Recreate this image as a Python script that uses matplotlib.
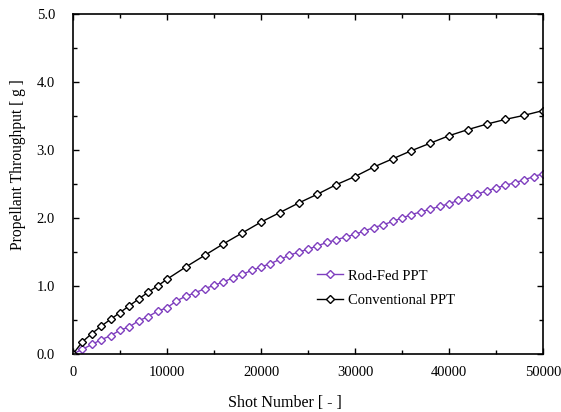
import matplotlib
matplotlib.use("Agg")
import matplotlib.pyplot as plt
from matplotlib.ticker import MultipleLocator, FormatStrFormatter

# Conventional PPT: every 1000 shots to 10000, then every 2000
shots_conv = [0, 1000, 2000, 3000, 4000, 5000, 6000, 7000, 8000, 9000, 10000,
              12000, 14000, 16000, 18000, 20000, 22000, 24000, 26000, 28000,
              30000, 32000, 34000, 36000, 38000, 40000, 42000, 44000, 46000,
              48000, 50000]
mass_conv = [0.0, 0.18, 0.30, 0.41, 0.51, 0.61, 0.71, 0.81, 0.91, 1.00, 1.10,
             1.28, 1.45, 1.62, 1.78, 1.94, 2.08, 2.22, 2.35, 2.49,
             2.61, 2.75, 2.87, 2.99, 3.10, 3.21, 3.30, 3.38, 3.45,
             3.51, 3.58]

# Rod-Fed PPT: every 1000 shots
shots_rod = list(range(0, 50001, 1000))
mass_rod = [0.0, 0.07, 0.14, 0.21, 0.27, 0.35, 0.40, 0.49, 0.55, 0.63,
            0.68, 0.78, 0.85, 0.90, 0.96, 1.01, 1.06, 1.12, 1.17, 1.23,
            1.28, 1.33, 1.39, 1.45, 1.50, 1.54, 1.59, 1.64, 1.68, 1.72,
            1.76, 1.81, 1.86, 1.90, 1.95, 2.00, 2.05, 2.09, 2.13, 2.17,
            2.21, 2.26, 2.31, 2.35, 2.40, 2.44, 2.48, 2.52, 2.56, 2.61,
            2.65]

PURPLE = "#7F3FBF"

plt.rcParams["font.family"] = ["Liberation Serif", "DejaVu Serif"]

fig = plt.figure(figsize=(5.61, 4.12), dpi=100)
ax = fig.add_axes([73 / 561, (412 - 354) / 412, 470 / 561, 340 / 412])

ax.plot(shots_rod, mass_rod, color=PURPLE, lw=1.0, marker="D", ms=3.8,
        mfc="white", mec=PURPLE, mew=1.0, label="Rod-Fed PPT")
ax.plot(shots_conv, mass_conv, color="black", lw=1.0, marker="D", ms=3.8,
        mfc="white", mec="black", mew=1.0, label="Conventional PPT")

ax.set_xlim(0, 50000)
ax.set_ylim(0, 5)
ax.xaxis.set_major_locator(MultipleLocator(10000))
ax.xaxis.set_minor_locator(MultipleLocator(5000))
ax.yaxis.set_major_locator(MultipleLocator(1.0))
ax.yaxis.set_minor_locator(MultipleLocator(0.5))
ax.yaxis.set_major_formatter(FormatStrFormatter("%.1f"))
ax.tick_params(which="both", direction="in", top=True, right=True,
               labelsize=10.5, width=1.0)
ax.tick_params(which="major", length=4)
ax.tick_params(which="minor", length=3)
ax.tick_params(axis="x", which="major", pad=9)
ax.tick_params(axis="y", which="major", pad=13)
for s in ax.spines.values():
    s.set_linewidth(1.2)

fig.text(285 / 561, 1 - 403 / 412, "Shot Number [ - ]", fontsize=11.5,
         ha="center", va="center")
fig.text(18 / 561, 1 - 165 / 412, "Propellant Throughput [ g ]", fontsize=11.2,
         rotation=90, ha="center", va="center")

ax.legend(loc="upper left", bbox_to_anchor=(0.519, 0.249), frameon=False,
          fontsize=10.5, borderpad=0, borderaxespad=0, handlelength=1.8,
          handletextpad=0.3, labelspacing=0.8)

fig.savefig("out.png", dpi=100)
